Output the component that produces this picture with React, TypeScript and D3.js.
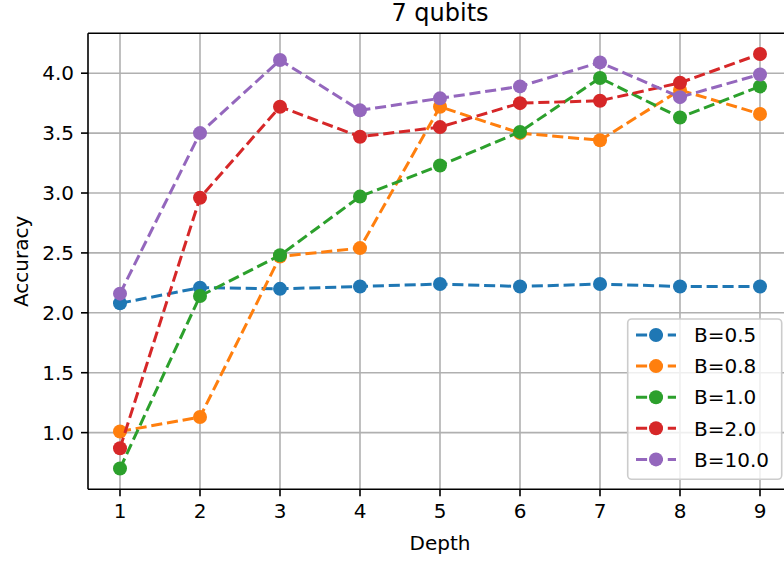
import * as d3 from 'd3';

// depth values and accuracy per batch setting
const depths = [1, 2, 3, 4, 5, 6, 7, 8, 9];
const seriesNames = ['B=0.5', 'B=0.8', 'B=1.0', 'B=2.0', 'B=10.0'];
const b05 = [2.08, 2.21, 2.2, 2.22, 2.24, 2.22, 2.24, 2.22, 2.22];
const b08 = [1.01, 1.13, 2.47, 2.54, 3.72, 3.5, 3.44, 3.86, 3.66];
const b10 = [0.7, 2.14, 2.48, 2.97, 3.23, 3.51, 3.96, 3.63, 3.89];
const b20 = [0.87, 2.96, 3.72, 3.47, 3.55, 3.75, 3.77, 3.92, 4.16];
const b100 = [2.16, 3.5, 4.11, 3.69, 3.79, 3.89, 4.09, 3.8, 3.99];
const yTicks = [1.0, 1.5, 2.0, 2.5, 3.0, 3.5, 4.0];

const colors = ['#1f77b4', '#ff7f0e', '#2ca02c', '#d62728', '#9467bd'];
const font = 'DejaVu Sans';

export default function App() {
  const width = 784;
  const height = 561;
  const plot = { left: 88, right: 792, top: 33.3, bottom: 489.3 };

  const allSeries = [b05, b08, b10, b20, b100];
  const allValues = allSeries.flat();
  const [ymin, ymax] = d3.extent(allValues) as [number, number];
  const pad = (ymax - ymin) * 0.05;

  const x = d3.scaleLinear().domain([0.6, 9.4]).range([plot.left, plot.right]);
  const y = d3.scaleLinear().domain([ymin - pad, ymax + pad]).range([plot.bottom, plot.top]);

  const line = d3
    .line<number>()
    .x((_, i) => x(depths[i]))
    .y((d) => y(d));

  const dash = '11.1 4.8';
  const markerR = 7;
  const legend = { left: 627.7, top: 319, right: 781.7, bottom: 479.3 };

  return (
    <svg
      width={width}
      height={height}
      style={{ position: 'absolute', left: 0, top: 0, background: '#fff' }}
      fontFamily={font}
    >
      <rect width={width} height={height} fill="#fff" />
      {/* grid */}
      <g stroke="#b0b0b0" strokeWidth={1.6}>
        {depths.map((d) => (
          <line key={'gx' + d} x1={x(d)} x2={x(d)} y1={plot.top} y2={plot.bottom} />
        ))}
        {yTicks.map((t) => (
          <line key={'gy' + t} x1={plot.left} x2={plot.right} y1={y(t)} y2={y(t)} />
        ))}
      </g>

      {/* series */}
      {allSeries.map((s, si) => (
        <g key={seriesNames[si]}>
          <path
            d={line(s) || ''}
            fill="none"
            stroke={colors[si]}
            strokeWidth={3}
            strokeDasharray={dash}
          />
          {s.map((v, i) => (
            <circle key={i} cx={x(depths[i])} cy={y(v)} r={markerR} fill={colors[si]} />
          ))}
        </g>
      ))}

      {/* spines */}
      <g stroke="#000" strokeWidth={1.6} fill="none">
        <line x1={plot.left} x2={plot.left} y1={plot.top} y2={plot.bottom} />
        <line x1={plot.left} x2={plot.right} y1={plot.bottom} y2={plot.bottom} />
        <line x1={plot.left} x2={plot.right} y1={plot.top} y2={plot.top} />
        <line x1={plot.right} x2={plot.right} y1={plot.top} y2={plot.bottom} />
      </g>

      {/* x ticks */}
      {depths.map((d) => (
        <g key={'xt' + d}>
          <line x1={x(d)} x2={x(d)} y1={plot.bottom} y2={plot.bottom + 7} stroke="#000" strokeWidth={1.6} />
          <text x={x(d)} y={plot.bottom + 29} textAnchor="middle" fontSize={20} fill="#000">
            {d}
          </text>
        </g>
      ))}

      {/* y ticks */}
      {yTicks.map((t) => (
        <g key={'yt' + t}>
          <line x1={plot.left - 7} x2={plot.left} y1={y(t)} y2={y(t)} stroke="#000" strokeWidth={1.6} />
          <text x={plot.left - 14} y={y(t)} dy="0.36em" textAnchor="end" fontSize={20} fill="#000">
            {d3.format('.1f')(t)}
          </text>
        </g>
      ))}

      {/* labels */}
      <text x={(plot.left + plot.right) / 2} y={550} textAnchor="middle" fontSize={20} fill="#000">
        Depth
      </text>
      <text
        transform={`translate(28,${(plot.top + plot.bottom) / 2}) rotate(-90)`}
        textAnchor="middle"
        fontSize={20}
        fill="#000"
      >
        Accuracy
      </text>
      <text x={(plot.left + plot.right) / 2} y={21} textAnchor="middle" fontSize={24} fill="#000">
        7 qubits
      </text>

      {/* legend */}
      <rect
        x={legend.left}
        y={legend.top}
        width={legend.right - legend.left}
        height={legend.bottom - legend.top}
        rx={4}
        fill="#fff"
        fillOpacity={0.8}
        stroke="#cccccc"
        strokeWidth={1.6}
      />
      {seriesNames.map((name, i) => {
        const cy = legend.top + 16 + i * 31.1;
        return (
          <g key={'lg' + name}>
            <line
              x1={636}
              x2={676}
              y1={cy}
              y2={cy}
              stroke={colors[i]}
              strokeWidth={3}
              strokeDasharray={dash}
            />
            <circle cx={656} cy={cy} r={markerR} fill={colors[i]} />
            <text x={694} y={cy} dy="0.36em" fontSize={20} fill="#000">
              {name}
            </text>
          </g>
        );
      })}
    </svg>
  );
}
